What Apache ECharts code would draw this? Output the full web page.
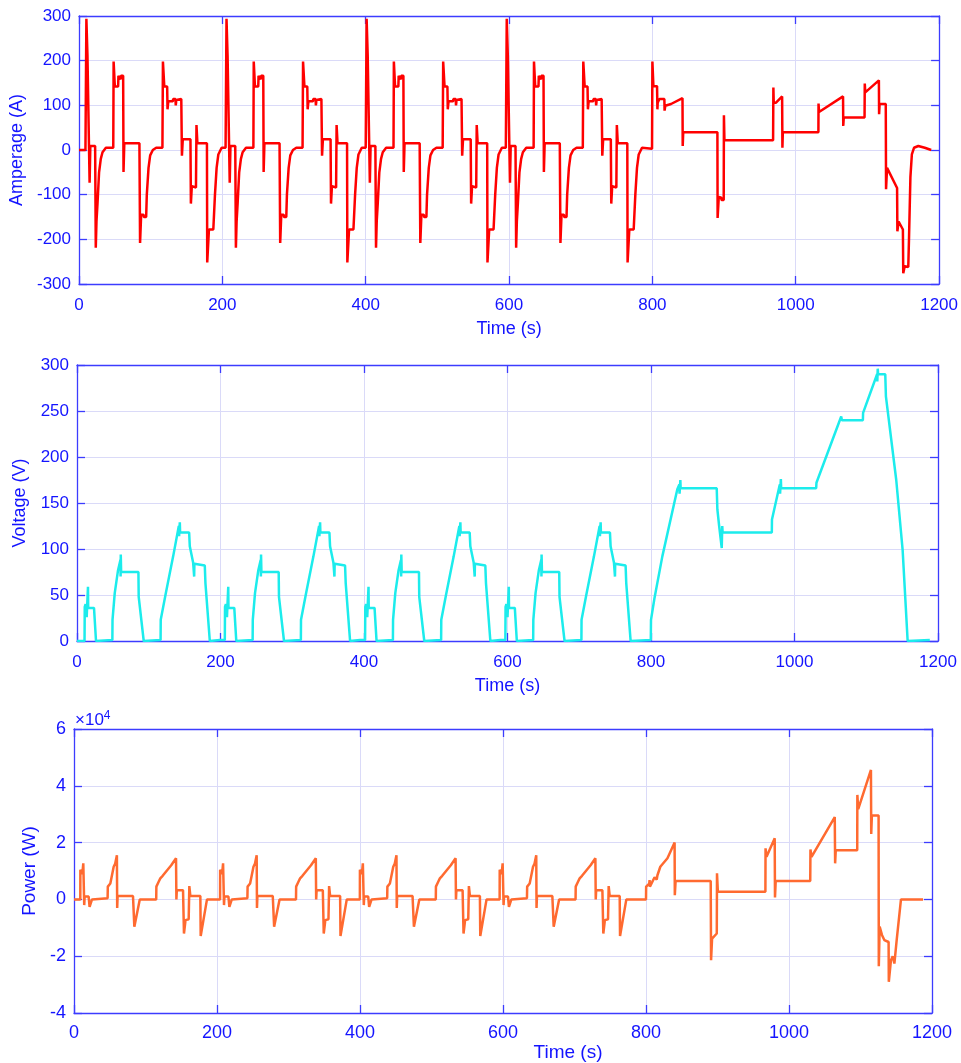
<!DOCTYPE html>
<html><head><meta charset="utf-8">
<script src="https://cdn.jsdelivr.net/npm/echarts@6/dist/echarts.min.js"></script>
<style>html,body{margin:0;padding:0;background:#fff}#c{width:961px;height:1063px}</style>
</head><body><div id="c"></div>
<script>
// ---------- DATA : [time (s), value] ----------
const currentCycle1 = [[0,0],[9,0],[10.3,294],[11.8,211],[14,210],[14.8,-73],[15.8,9],[22.5,9],[23.4,-219],[24.4,-160],[25.8,-120],[28,-50],[30.4,-20],[32.8,-5],[37.5,5],[47.8,5],[48.3,198],[50,142],[54.6,142],[55,166],[57.5,166],[58,158],[58.5,166],[61.6,166],[62.1,-49],[63.2,15],[84.3,15],[85.2,-208],[86.7,-145],[90,-145],[90.5,-150],[93.7,-150],[94.6,-100],[97,-40],[99.3,-12],[103,0],[107.7,5],[116.4,5],[117.1,198],[119,142],[123,142],[123.5,91],[124.6,109],[131,109],[131.3,114],[134.6,114],[135,100],[135.8,112],[142.7,114],[143.6,-13],[144.8,24],[155.5,24],[156.1,-120],[157.4,-81],[163.2,-84],[163.9,56],[165.2,15],[178.5,15],[178.9,-252],[181.3,-178],[187.4,-178],[189.7,-100],[192,-40],[194.4,-10],[199,5]];
const currentCycle2 = [[204.5,5],[205.8,294],[207.3,211],[209.5,210],[210.3,-73],[211.3,9],[218,9],[218.9,-219],[219.9,-160],[221.3,-120],[223.5,-50],[225.9,-20],[228.3,-5],[233,5],[243.3,5],[243.8,198],[245.5,142],[250.1,142],[250.5,166],[253,166],[253.5,158],[254,166],[257.1,166],[257.6,-49],[258.7,15],[279.8,15],[280.7,-208],[282.2,-145],[285.5,-145],[286,-150],[289.2,-150],[290.1,-100],[292.5,-40],[294.8,-12],[298.5,0],[303.2,5],[311.9,5],[312.6,198],[314.5,142],[318.5,142],[319,91],[320.1,109],[326.5,109],[326.8,114],[330.1,114],[330.5,100],[331.3,112],[338.2,114],[339.1,-13],[340.3,24],[351,24],[351.6,-120],[352.9,-81],[358.7,-84],[359.4,56],[360.7,15],[374,15],[374.4,-252],[376.8,-178],[382.9,-178],[385.2,-100],[387.5,-40],[389.9,-10],[394.5,5]];
const currentCycle3 = [[400,5],[401.3,294],[402.8,211],[405,210],[405.8,-73],[406.8,9],[413.5,9],[414.4,-219],[415.4,-160],[416.8,-120],[419,-50],[421.4,-20],[423.8,-5],[428.5,5],[438.8,5],[439.3,198],[441,142],[445.6,142],[446,166],[448.5,166],[449,158],[449.5,166],[452.6,166],[453.1,-49],[454.2,15],[475.3,15],[476.2,-208],[477.7,-145],[481,-145],[481.5,-150],[484.7,-150],[485.6,-100],[488,-40],[490.3,-12],[494,0],[498.7,5],[507.4,5],[508.1,198],[510,142],[514,142],[514.5,91],[515.6,109],[522,109],[522.3,114],[525.6,114],[526,100],[526.8,112],[533.7,114],[534.6,-13],[535.8,24],[546.5,24],[547.1,-120],[548.4,-81],[554.2,-84],[554.9,56],[556.2,15],[569.5,15],[569.9,-252],[572.3,-178],[578.4,-178],[580.7,-100],[583,-40],[585.4,-10],[590,5]];
const currentCycle4 = [[595.5,5],[596.8,294],[598.3,211],[600.5,210],[601.3,-73],[602.3,9],[609,9],[609.9,-219],[610.9,-160],[612.3,-120],[614.5,-50],[616.9,-20],[619.3,-5],[624,5],[634.3,5],[634.8,198],[636.5,142],[641.1,142],[641.5,166],[644,166],[644.5,158],[645,166],[648.1,166],[648.6,-49],[649.7,15],[670.8,15],[671.7,-208],[673.2,-145],[676.5,-145],[677,-150],[680.2,-150],[681.1,-100],[683.5,-40],[685.8,-12],[689.5,0],[694.2,5],[702.9,5],[703.6,198],[705.5,142],[709.5,142],[710,91],[711.1,109],[717.5,109],[717.8,114],[721.1,114],[721.5,100],[722.3,112],[729.2,114],[730.1,-13],[731.3,24],[742,24],[742.6,-120],[743.9,-81],[749.7,-84],[750.4,56],[751.7,15],[765,15],[765.4,-252],[767.8,-178],[773.9,-178],[776.2,-100],[778.5,-40],[780.9,-10],[785.5,5]];
const currentEudc = [[799.5,3],[800,198],[801.4,143],[806.5,143],[807,91],[807.4,106],[809.5,106],[809.8,114],[816.7,114],[817,88],[818,99],[826,103],[826.3,100],[842,116],[842.3,9],[843,40],[890.7,40],[891,-152],[892.6,-105],[896,-107],[896.5,-112],[899.5,-112],[899.8,78],[900.5,22],[968.4,22],[968.8,140],[969.3,106],[972.5,106],[981,120],[981.4,5],[982,40],[1031.6,40],[1031.8,104],[1032.5,85],[1066,120],[1066.3,54],[1067,73],[1096,73],[1096.3,149],[1097,129],[1116,156],[1116.3,80],[1117,103],[1125.6,103],[1126,-88],[1127.4,-40],[1141.4,-85],[1141.8,-182],[1143.5,-160],[1149.5,-178],[1150,-276],[1152,-260],[1157,-262],[1158,-200],[1160,-60],[1162,-10],[1165,5],[1171,9],[1180,5],[1189,0]];

const voltageCycle1 = [[0,0],[10.5,0],[10.8,37],[12,40],[13.5,26],[15.3,59],[15.6,36],[23.7,36],[26.5,0],[27,1],[49.3,1],[49.5,23],[52.6,52],[57.2,77],[60.5,88],[60.8,70],[61,94],[61.5,75],[85.6,75],[86,48],[93,0],[93.5,1],[116.5,1],[116.7,23],[123.3,50],[134,92],[141.9,125],[142.3,114],[143.3,129],[143.7,118],[156.3,118],[157.2,103],[161.9,85],[163.3,70],[163.6,84],[164.2,82],[178.1,82],[179,63],[185.1,0],[186,1],[199,1]];
const voltageCycle2 = [[206,1],[206.3,37],[207.5,40],[209,26],[210.8,59],[211.1,36],[219.2,36],[222,0],[222.5,1],[244.8,1],[245,23],[248.1,52],[252.7,77],[256,88],[256.3,70],[256.5,94],[257,75],[281.1,75],[281.5,48],[288.5,0],[289,1],[312,1],[312.2,23],[318.8,50],[329.5,92],[337.4,125],[337.8,114],[338.8,129],[339.2,118],[351.8,118],[352.7,103],[357.4,85],[358.8,70],[359.1,84],[359.7,82],[373.6,82],[374.5,63],[380.6,0],[381.5,1],[394.5,1]];
const voltageCycle3 = [[401.5,1],[401.8,37],[403,40],[404.5,26],[406.3,59],[406.6,36],[414.7,36],[417.5,0],[418,1],[440.3,1],[440.5,23],[443.6,52],[448.2,77],[451.5,88],[451.8,70],[452,94],[452.5,75],[476.6,75],[477,48],[484,0],[484.5,1],[507.5,1],[507.7,23],[514.3,50],[525,92],[532.9,125],[533.3,114],[534.3,129],[534.7,118],[547.3,118],[548.2,103],[552.9,85],[554.3,70],[554.6,84],[555.2,82],[569.1,82],[570,63],[576.1,0],[577,1],[590,1]];
const voltageCycle4 = [[597,1],[597.3,37],[598.5,40],[600,26],[601.8,59],[602.1,36],[610.2,36],[613,0],[613.5,1],[635.8,1],[636,23],[639.1,52],[643.7,77],[647,88],[647.3,70],[647.5,94],[648,75],[672.1,75],[672.5,48],[679.5,0],[680,1],[703,1],[703.2,23],[709.8,50],[720.5,92],[728.4,125],[728.8,114],[729.8,129],[730.2,118],[742.8,118],[743.7,103],[748.4,85],[749.8,70],[750.1,84],[750.7,82],[764.6,82],[765.5,63],[771.6,0],[772.5,1]];
const voltageEudc = [[799.7,1],[800,23],[804.7,46],[815.8,92],[836.7,165],[839.5,170],[839.8,160],[840.9,175],[841.3,166],[891.6,166],[892.5,143],[895,125],[898.6,101],[899.3,125],[899.8,118],[968.4,118],[968.6,132],[979.5,170],[979.9,160],[981,176],[981.4,166],[1030.2,166],[1030.6,172],[1065.1,244],[1066,240],[1095.3,240],[1095.6,248],[1115.1,290],[1115.4,282],[1116,296],[1116.5,290],[1126.5,290],[1127.4,266],[1141.8,175],[1150.7,99],[1157.7,0],[1158.5,1],[1188.6,1]];

const powerCycle1 = [[0,0],[8.8,0],[8.9,10400],[11.5,10400],[11.7,9000],[13,12700],[14.3,-2000],[14.9,1000],[20.5,1000],[21.8,-2600],[25.2,0],[25.5,400],[47,400],[47.3,4500],[50.8,5600],[55.5,11500],[57.5,12500],[60,15500],[60.4,-3000],[61,1200],[82.5,1200],[84.4,-9600],[92,0],[115,0],[115.2,4500],[118.4,6200],[120.7,7400],[124,8300],[130,10200],[136,12000],[142.7,14500],[143.2,0],[143.8,3200],[152.5,3200],[153.8,-12000],[156,-7300],[160.4,-7000],[161.3,4700],[162.7,1200],[176.7,1200],[177.2,-12900],[186,0],[199,0]];
const powerCycle2 = [[204.3,0],[204.4,10400],[207,10400],[207.2,9000],[208.5,12700],[209.8,-2000],[210.4,1000],[216,1000],[217.3,-2600],[220.7,0],[221,400],[242.5,400],[242.8,4500],[246.3,5600],[251,11500],[253,12500],[255.5,15500],[255.9,-3000],[256.5,1200],[278,1200],[279.9,-9600],[287.5,0],[310.5,0],[310.7,4500],[313.9,6200],[316.2,7400],[319.5,8300],[325.5,10200],[331.5,12000],[338.2,14500],[338.7,0],[339.3,3200],[348,3200],[349.3,-12000],[351.5,-7300],[355.9,-7000],[356.8,4700],[358.2,1200],[372.2,1200],[372.7,-12900],[381.5,0],[394.5,0]];
const powerCycle3 = [[399.8,0],[399.9,10400],[402.5,10400],[402.7,9000],[404,12700],[405.3,-2000],[405.9,1000],[411.5,1000],[412.8,-2600],[416.2,0],[416.5,400],[438,400],[438.3,4500],[441.8,5600],[446.5,11500],[448.5,12500],[451,15500],[451.4,-3000],[452,1200],[473.5,1200],[475.4,-9600],[483,0],[506,0],[506.2,4500],[509.4,6200],[511.7,7400],[515,8300],[521,10200],[527,12000],[533.7,14500],[534.2,0],[534.8,3200],[543.5,3200],[544.8,-12000],[547,-7300],[551.4,-7000],[552.3,4700],[553.7,1200],[567.7,1200],[568.2,-12900],[577,0],[590,0]];
const powerCycle4 = [[595.3,0],[595.4,10400],[598,10400],[598.2,9000],[599.5,12700],[600.8,-2000],[601.4,1000],[607,1000],[608.3,-2600],[611.7,0],[612,400],[633.5,400],[633.8,4500],[637.3,5600],[642,11500],[644,12500],[646.5,15500],[646.9,-3000],[647.5,1200],[669,1200],[670.9,-9600],[678.5,0],[701.5,0],[701.7,4500],[704.9,6200],[707.2,7400],[710.5,8300],[716.5,10200],[722.5,12000],[729.2,14500],[729.7,0],[730.3,3200],[739,3200],[740.3,-12000],[742.5,-7300],[746.9,-7000],[747.8,4700],[749.2,1200],[763.2,1200],[763.7,-12900],[772.5,0]];
const powerEudc = [[800,0],[800.2,4500],[804.5,5500],[805,6800],[805.5,4500],[812,7800],[813,8000],[815,7000],[816,8500],[820,11500],[830,14500],[840,20000],[840.3,1500],[841.4,6500],[890.5,6500],[891,-21400],[892.4,-13800],[899,-12000],[899.3,9200],[900.5,2700],[967,2700],[967.2,18000],[968.6,15000],[980,21500],[980.4,700],[981.4,6500],[1029.7,6500],[1030,17600],[1031.5,15000],[1064,29000],[1064.5,12700],[1065.4,17300],[1095.4,17300],[1095.6,36800],[1096.8,31800],[1114.6,45600],[1115,23000],[1115.9,29500],[1125.3,29500],[1125.6,-23500],[1126.8,-9600],[1130,-12500],[1133.3,-14300],[1139.3,-15000],[1139.6,-29000],[1142.6,-21400],[1145,-20000],[1147.4,-22600],[1150.6,-14300],[1156.6,0],[1187.5,0]];

const xTitle = 'Time (s)';
const yTitles = ['Amperage (A)', 'Voltage (V)', 'Power (W)'];

// ---------- CHART ----------
const AXIS = '#3c3cff', TXT = '#1414ff', GRID = '#dadaf8';
const FONT = 'Liberation Sans, Arial, sans-serif';

const currentData = [].concat(currentCycle1, currentCycle2, currentCycle3, currentCycle4, currentEudc);
const voltageData = [].concat(voltageCycle1, voltageCycle2, voltageCycle3, voltageCycle4, voltageEudc);
const powerData = [].concat(powerCycle1, powerCycle2, powerCycle3, powerCycle4, powerEudc);

const LINE = {show:true, onZero:false, lineStyle:{color:AXIS, width:1.3}};
const TICK = {show:true, inside:true, length:8, lineStyle:{color:AXIS, width:1.3}};

function xMain(g, gap, fs, pad, margin) {
  return { type:'value', gridIndex:g, min:0, max:1200, interval:200, position:'bottom',
    name:xTitle, nameLocation:'middle', nameGap:gap,
    nameTextStyle:{color:TXT, fontSize:fs+1, fontFamily:FONT, padding:pad||0},
    axisLine:LINE, axisTick:TICK,
    axisLabel:{color:TXT, fontSize:fs, fontFamily:FONT, margin:margin, formatter:v => String(v)},
    splitLine:{show:true, lineStyle:{color:GRID, width:1}} };
}
function xTop(g) {
  return { type:'value', gridIndex:g, min:0, max:1200, interval:200, position:'top',
    axisLine:LINE, axisTick:TICK, axisLabel:{show:false}, splitLine:{show:false} };
}
function yMain(g, min, max, iv, name, gap, fs, fmt) {
  return { type:'value', gridIndex:g, min:min, max:max, interval:iv, position:'left',
    name:name, nameLocation:'middle', nameRotate:90, nameGap:gap,
    nameTextStyle:{color:TXT, fontSize:fs+1, fontFamily:FONT},
    axisLine:LINE, axisTick:TICK,
    axisLabel:{color:TXT, fontSize:fs, fontFamily:FONT, margin:8, formatter:fmt || (v => String(v))},
    splitLine:{show:true, lineStyle:{color:GRID, width:1}} };
}
function yRight(g, min, max, iv) {
  return { type:'value', gridIndex:g, min:min, max:max, interval:iv, position:'right',
    axisLine:LINE, axisTick:TICK, axisLabel:{show:false}, splitLine:{show:false} };
}

const chart = echarts.init(document.getElementById('c'), null, {renderer:'canvas'});
chart.setOption({
  animation:false,
  backgroundColor:'#ffffff',
  grid:[
    {left:79, right:21, top:16, height:268},
    {left:77, right:23, top:365, height:276},
    {left:74, right:29, top:729, height:284}
  ],
  xAxis:[ xMain(0, 36, 17, 0, 13), xMain(1, 36, 17, 0, 13), xMain(2, 29, 18, [0,0,0,130], 11), xTop(0), xTop(1), xTop(2) ],
  yAxis:[
    yMain(0, -300, 300, 100, yTitles[0], 48, 17),
    yMain(1, 0, 300, 50, yTitles[1], 48, 17),
    yMain(2, -40000, 60000, 20000, yTitles[2], 30, 18, v => String(v/10000)),
    yRight(0, -300, 300, 100), yRight(1, 0, 300, 50), yRight(2, -40000, 60000, 20000)
  ],
  graphic:[{
    type:'text', left:75, top:710,
    style:{ text:'{a|×10}{b|4}', rich:{ a:{fontSize:17, fill:TXT, fontFamily:FONT}, b:{fontSize:12, fill:TXT, fontFamily:FONT, verticalAlign:'top', padding:[0,0,8,0]} } }
  }],
  series:[
    {type:'line', xAxisIndex:0, yAxisIndex:0, data:currentData, showSymbol:false, lineStyle:{color:'#ff0000', width:2.5}, itemStyle:{color:'#ff0000'}},
    {type:'line', xAxisIndex:1, yAxisIndex:1, data:voltageData, showSymbol:false, lineStyle:{color:'#1cecec', width:2.5}, itemStyle:{color:'#1cecec'}},
    {type:'line', xAxisIndex:2, yAxisIndex:2, data:powerData, showSymbol:false, lineStyle:{color:'#ff6a30', width:2.5}, itemStyle:{color:'#ff6a30'}}
  ]
});
</script></body></html>
